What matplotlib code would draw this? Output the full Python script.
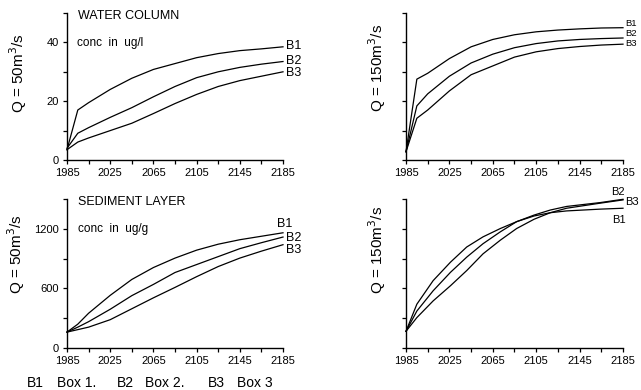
import matplotlib
matplotlib.use("Agg")
import matplotlib.pyplot as plt

plt.rcParams['font.family'] = ['Liberation Sans', 'DejaVu Sans']

years = [1985, 1995, 2005, 2025, 2045, 2065, 2085, 2105, 2125, 2145, 2165, 2185]

# Water column, Q = 50 m3/s (conc in ug/l)
wc50_b1 = [3.5, 17.0, 19.5, 24.0, 27.8, 30.8, 32.8, 34.8, 36.2, 37.2, 37.8, 38.5]
wc50_b2 = [4.0, 9.1, 11.0, 14.5, 17.8, 21.5, 25.0, 28.0, 30.0, 31.5, 32.6, 33.5]
wc50_b3 = [3.5, 6.1, 7.5, 10.0, 12.5, 15.8, 19.2, 22.3, 25.0, 27.0, 28.5, 30.0]

# Water column, Q = 150 m3/s (no axis values shown)
wc150_b1 = [2.8, 27.5, 29.5, 34.5, 38.5, 41.0, 42.6, 43.6, 44.2, 44.6, 44.9, 45.0]
wc150_b2 = [2.8, 18.4, 22.5, 28.5, 33.0, 36.0, 38.2, 39.6, 40.5, 41.0, 41.3, 41.5]
wc150_b3 = [2.8, 14.2, 17.0, 23.5, 29.0, 32.0, 35.0, 36.8, 37.9, 38.6, 39.1, 39.4]

# Sediment layer, Q = 50 m3/s (conc in ug/g)
sl50_b1 = [160, 240, 350, 530, 690, 810, 905, 985, 1045, 1090, 1125, 1160]
sl50_b2 = [160, 210, 265, 390, 527, 640, 760, 840, 920, 1000, 1060, 1117]
sl50_b3 = [160, 185, 210, 285, 395, 505, 610, 718, 820, 905, 975, 1040]

# Sediment layer, Q = 150 m3/s (no axis values shown)
br_years = [1985, 1995, 2010, 2026, 2041, 2056, 2072, 2087, 2103, 2118, 2133, 2164, 2185]
sl150_b1 = [5.6, 14.7, 22.6, 28.8, 33.9, 37.3, 40.1, 42.4, 44.3, 45.4, 46.0, 46.6, 46.9]
sl150_b2 = [5.6, 12.4, 19.2, 25.4, 30.5, 35.0, 39.0, 42.4, 44.6, 46.3, 47.5, 48.8, 49.9]
sl150_b3 = [5.6, 10.2, 15.8, 20.9, 26.0, 31.6, 36.2, 40.1, 43.2, 45.4, 46.9, 48.6, 49.7]

series_names = ["B1", "B2", "B3"]
xticks = list(range(1985, 2186, 20))
xticklabels = ["1985", "", "2025", "", "2065", "", "2105", "", "2145", "", "2185"]

fig = plt.figure(figsize=(6.41, 3.90), dpi=100)
W, H = 641.0, 390.0

def make_ax(l, r, t, b):
    return fig.add_axes([l / W, 1 - b / H, (r - l) / W, (b - t) / H])

ax_tl = make_ax(67, 283, 13, 160)
ax_tr = make_ax(406, 623, 13, 160)
ax_bl = make_ax(67, 283, 199, 348)
ax_br = make_ax(406, 623, 199, 348)

def style(ax, ymax, ystep, ylabels):
    for s in ("top", "right"):
        ax.spines[s].set_visible(False)
    for s in ("left", "bottom"):
        ax.spines[s].set_linewidth(1.0)
    ax.set_xlim(1985, 2185)
    ax.set_ylim(0, ymax)
    ax.set_xticks(xticks)
    ax.set_xticklabels(xticklabels)
    yt = [i * ystep for i in range(int(round(ymax / ystep)) + 1)]
    ax.set_yticks(yt)
    ax.set_yticklabels(ylabels)
    ax.tick_params(direction="out", length=3, width=0.9, labelsize=8, pad=3)
    ax.patch.set_alpha(0)

def plot_set(ax, xs, data, label_pos, fs=9):
    for d, name, (lx, ly) in zip(data, series_names, label_pos):
        ax.plot(xs, d, color="black", lw=0.9, clip_on=False)
        ax.text(lx, ly, name, fontsize=fs, va="center", ha="left")

plot_set(ax_tl, years, [wc50_b1, wc50_b2, wc50_b3], [(2188, 38.8), (2188, 33.7), (2188, 29.5)])
style(ax_tl, 50, 10, ["0", "", "20", "", "40", ""])

plot_set(ax_tr, years, [wc150_b1, wc150_b2, wc150_b3], [(2187, 46.4), (2187, 43.0), (2187, 39.6)], fs=6.8)
style(ax_tr, 50, 10, [""] * 6)

plot_set(ax_bl, years, [sl50_b1, sl50_b2, sl50_b3], [(2179, 1250), (2188, 1105), (2188, 990)])
style(ax_bl, 1500, 300, ["0", "", "600", "", "1200", ""])

plot_set(ax_br, br_years, [sl150_b1, sl150_b2, sl150_b3], [(2175, 43.0), (2174, 52.3), (2187, 49.0)], fs=8)
style(ax_br, 50, 10, [""] * 6)

# annotations
fig.text(78 / W, 1 - 16 / H, "WATER COLUMN", fontsize=9, va="center")
fig.text(77 / W, 1 - 43 / H, "conc  in  ug/l", fontsize=8.5, va="center")
fig.text(78 / W, 1 - 202 / H, "SEDIMENT LAYER", fontsize=9, va="center")
fig.text(78 / W, 1 - 229 / H, "conc  in  ug/g", fontsize=8.5, va="center")

fig.text(18 / W, 1 - 73 / H, "Q = 50m$^3$/s", rotation=90, fontsize=11, ha="center", va="center")
fig.text(377 / W, 1 - 68 / H, "Q = 150m$^3$/s", rotation=90, fontsize=11, ha="center", va="center")
fig.text(16 / W, 1 - 254 / H, "Q = 50m$^3$/s", rotation=90, fontsize=11, ha="center", va="center")
fig.text(377 / W, 1 - 250 / H, "Q = 150m$^3$/s", rotation=90, fontsize=11, ha="center", va="center")

caption = [("B1", 27), ("Box 1.", 57), ("B2", 117), ("Box 2.", 145), ("B3", 208), ("Box 3", 237)]
for txt, x in caption:
    fig.text(x / W, 1 - 383 / H, txt, fontsize=10, va="center", ha="left")

fig.savefig("out.png", dpi=100)
